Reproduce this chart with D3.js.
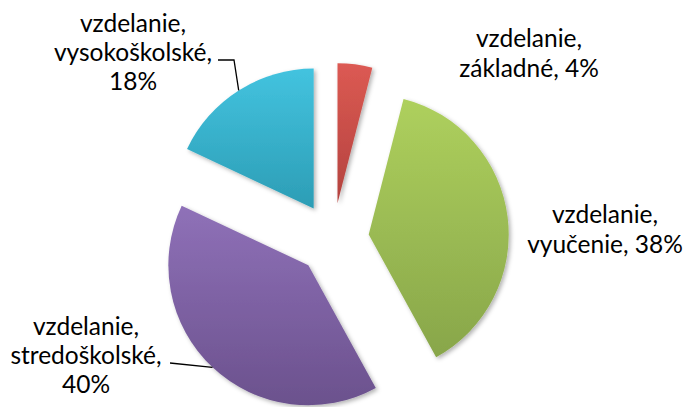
<!DOCTYPE html>
<html>
<head>
<meta charset="utf-8">
<script src="https://cdn.jsdelivr.net/npm/d3@7"></script>
<style>
  html, body { margin: 0; padding: 0; background: #fff; }
  svg { display: block; }
  text { font-family: Lato, "Open Sans", sans-serif; fill: #000; }
</style>
</head>
<body>
<div id="chart"></div>
<script>
// Data
const categories = ['vzdelanie, základné', 'vzdelanie, vyučenie', 'vzdelanie, stredoškolské', 'vzdelanie, vysokoškolské']
const values = [4, 38, 40, 18]
const labelLines = [
  ['vzdelanie,', 'základné, 4%'],
  ['vzdelanie,', 'vyučenie, 38%'],
  ['vzdelanie,', 'stredoškolské,', '40%'],
  ['vzdelanie,', 'vysokoškolské,', '18%']
]

// Layout / style
const width = 687, height = 407
const center = { x: 333, y: 239 }
const radius = 140
const explode = 36
const colors = [
  { top: '#dc5a53', bottom: '#b3423e' },
  { top: '#aed05d', bottom: '#88a64a' },
  { top: '#8f71b8', bottom: '#6b518d' },
  { top: '#43c3df', bottom: '#2c9db5' }
]
// label block centre x, first baseline y, line spacing, leader start / elbow
const labelLayout = [
  { x: 529, y: 47, dy: 30, leader: null },
  { x: 605, y: 223, dy: 30, leader: null },
  { x: 86, y: 335, dy: 29, leader: { from: [170, 363] } },
  { x: 133, y: 32, dy: 29, leader: { from: [218, 60], elbow: [234, 60] } }
]

const svg = d3.select('#chart').append('svg')
  .attr('width', width).attr('height', height)

const defs = svg.append('defs')
colors.forEach((c, i) => {
  const grad = defs.append('linearGradient').attr('id', `grad${i}`)
    .attr('x1', 0).attr('y1', 0).attr('x2', 0).attr('y2', 1)
  grad.append('stop').attr('offset', '0%').attr('stop-color', c.top)
  grad.append('stop').attr('offset', '100%').attr('stop-color', c.bottom)
})
const shadow = defs.append('filter').attr('id', 'shadow')
  .attr('x', '-20%').attr('y', '-20%').attr('width', '140%').attr('height', '140%')
shadow.append('feDropShadow').attr('dx', 2).attr('dy', 2).attr('stdDeviation', 2)
  .attr('flood-color', '#000').attr('flood-opacity', 0.3)

const pie = d3.pie().sort(null).value(d => d)
const arcs = pie(values)
const arc = d3.arc().innerRadius(0).outerRadius(radius)
const rim = d3.arc().innerRadius(radius).outerRadius(radius)

function offset(d) {
  const a = (d.startAngle + d.endAngle) / 2
  return [Math.sin(a) * explode, -Math.cos(a) * explode]
}

const g = svg.append('g').attr('transform', `translate(${center.x},${center.y})`)

g.selectAll('path.slice').data(arcs).join('path')
  .attr('class', 'slice')
  .attr('d', arc)
  .attr('transform', d => `translate(${offset(d)})`)
  .attr('fill', (d, i) => `url(#grad${i})`)
  .attr('filter', 'url(#shadow)')

// Leader lines end on the middle of each slice's rim
arcs.forEach((d, i) => {
  const lay = labelLayout[i]
  if (!lay.leader) return
  const [ox, oy] = offset(d)
  const [cx, cy] = rim.centroid(d)
  const end = [center.x + ox + cx, center.y + oy + cy]
  const pts = [lay.leader.from]
  if (lay.leader.elbow) pts.push(lay.leader.elbow)
  pts.push(end)
  svg.append('path')
    .attr('d', d3.line()(pts))
    .attr('fill', 'none').attr('stroke', '#000').attr('stroke-width', 1.3)
})

// Labels
labelLines.forEach((lines, i) => {
  const lay = labelLayout[i]
  const t = svg.append('text')
    .attr('text-anchor', 'middle')
    .style('font-size', '24.5px')
  lines.forEach((ln, j) => {
    t.append('tspan').attr('x', lay.x).attr('y', lay.y + j * lay.dy).text(ln)
  })
})
</script>
</body>
</html>
